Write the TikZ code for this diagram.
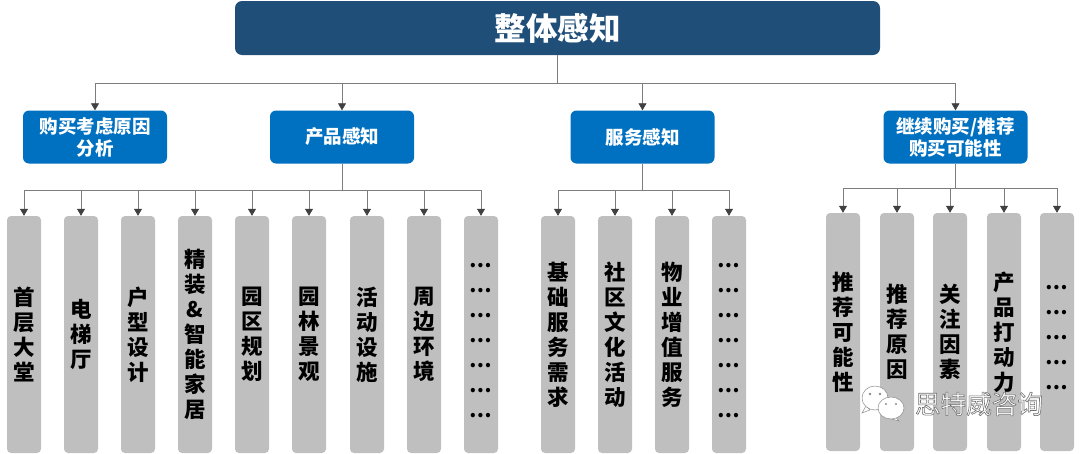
\documentclass[tikz,border=0pt]{standalone}
\usepackage{xcolor}
\usepackage{fontspec}
\setmainfont{Noto Sans CJK SC}
\definecolor{navy}{RGB}{31,78,121}
\definecolor{bleu}{RGB}{0,112,192}
\definecolor{gris}{RGB}{191,191,191}
\definecolor{trait}{RGB}{125,125,125}
\definecolor{pointe}{RGB}{64,64,64}
\usetikzlibrary{arrows.meta}
\newcommand{\firstdot}{\rule{0pt}{16pt}…}
\tikzset{
  top/.style={rectangle,rounded corners=7pt,fill=navy,text=white,minimum width=645pt,minimum height=54pt,inner sep=0pt,font=\fontsize{31.5}{36}\selectfont\bfseries},
  head/.style={rectangle,rounded corners=6pt,fill=bleu,text=white,minimum width=144pt,minimum height=53pt,inner sep=0pt,align=center,font=\fontsize{18.5}{22}\selectfont\bfseries},
  leaf/.style={rectangle,rounded corners=4pt,fill=gris,text=black,minimum width=34pt,inner sep=0pt,align=center,font=\fontsize{21.5}{25}\selectfont\bfseries},
  leafa/.style={leaf,minimum height=237pt},
  leafb/.style={leaf,minimum height=238pt},
  dots/.style={font=\fontsize{20}{25}\selectfont\bfseries},
  stem/.style={draw=trait,line width=0.8pt},
  hv/.style={-{Triangle[length=7pt,width=8pt,color=pointe]},to path={-| (\tikztotarget)}},
  wmark/.style={inner sep=0pt,font=\fontsize{25.6}{30}\selectfont},
  bubble/.style={draw=black!45,fill=white,line width=0.5pt},
}
\begin{document}
\begin{tikzpicture}[x=1pt,y=-1pt]
  \useasboundingbox (0,0) rectangle (1080,453);
  \node[top] (all) at (557.5,28) {整体感知};
  \node[head] (why) at (95,137) {购买考虑原因\\分析};
  \node[head] (prod) at (342,137) {产品感知};
  \node[head] (serv) at (642.5,137) {服务感知};
  \node[head] (again) at (955.5,137) {继续购买/推荐\\购买可能性};

  \node[leafa] (p1) at (24,334.5) {首\\层\\大\\堂};
  \node[leafa] (p2) at (81,334.5) {电\\梯\\厅};
  \node[leafa] (p3) at (138,334.5) {户\\型\\设\\计};
  \node[leafa] (p4) at (195,334.5) {精\\装\\\&\\智\\能\\家\\居};
  \node[leafa] (p5) at (252,334.5) {园\\区\\规\\划};
  \node[leafa] (p6) at (309,334.5) {园\\林\\景\\观};
  \node[leafa] (p7) at (367,334.5) {活\\动\\设\\施};
  \node[leafa] (p8) at (424,334.5) {周\\边\\环\\境};
  \node[leafa,dots] (p9) at (481,334.5) {\firstdot\\…\\…\\…\\…\\…\\…};

  \node[leafa] (s1) at (558,334.5) {基\\础\\服\\务\\需\\求};
  \node[leafa] (s2) at (615,334.5) {社\\区\\文\\化\\活\\动};
  \node[leafa] (s3) at (672,334.5) {物\\业\\增\\值\\服\\务};
  \node[leafa,dots] (s4) at (729,334.5) {\firstdot\\…\\…\\…\\…\\…\\…};

  \node[leafb] (a1) at (843,332) {推\\荐\\可\\能\\性};
  \node[leafb] (a2) at (897,332) {推\\荐\\原\\因};
  \node[leafb] (a3) at (950,332) {关\\注\\因\\素};
  \node[leafb] (a4) at (1004,332) {产\\品\\打\\动\\力};
  \node[leafb,dots] (a5) at (1057,332) {\firstdot\\…\\…\\…\\…};

  \coordinate (jall) at (557.5,83);
  \coordinate (jprod) at (342,190);
  \coordinate (jserv) at (642.5,190);
  \coordinate (jagain) at (955.5,188);

  \path[stem] (all.south) -- (jall);
  \path[stem] (prod.south) -- (jprod);
  \path[stem] (serv.south) -- (jserv);
  \path[stem] (again.south) -- (jagain);

  \path[stem]
    (jall) edge[hv] (why.north)
    (jall) edge[hv] (prod.north)
    (jall) edge[hv] (serv.north)
    (jall) edge[hv] (again.north);
  \path[stem]
    (jprod) edge[hv] (p1.north)
    (jprod) edge[hv] (p2.north)
    (jprod) edge[hv] (p3.north)
    (jprod) edge[hv] (p4.north)
    (jprod) edge[hv] (p5.north)
    (jprod) edge[hv] (p6.north)
    (jprod) edge[hv] (p7.north)
    (jprod) edge[hv] (p8.north)
    (jprod) edge[hv] (p9.north);
  \path[stem]
    (jserv) edge[hv] (s1.north)
    (jserv) edge[hv] (s2.north)
    (jserv) edge[hv] (s3.north)
    (jserv) edge[hv] (s4.north);
  \path[stem]
    (jagain) edge[hv] (a1.north)
    (jagain) edge[hv] (a2.north)
    (jagain) edge[hv] (a3.north)
    (jagain) edge[hv] (a4.north)
    (jagain) edge[hv] (a5.north);

  % watermark
  \path[bubble] (862,413) -- (866,406) -- (870,410) -- cycle;
  \path[bubble] (875,398) ellipse (13 and 12);
  \path[bubble] (899,421) -- (893,414) -- (888,418) -- cycle;
  \path[bubble] (891,408) ellipse (13 and 11);
  \fill[black!45] (870,394) circle (1.3) (880,394) circle (1.3) (886,404) circle (1.1) (896,404) circle (1.1);
  \node[wmark,text=white] (wechat) at (979,404) {\special{pdf:code 2 Tr 0.6 w 0.45 G}思特威咨询\special{pdf:code 0 Tr}};
\end{tikzpicture}
\end{document}
